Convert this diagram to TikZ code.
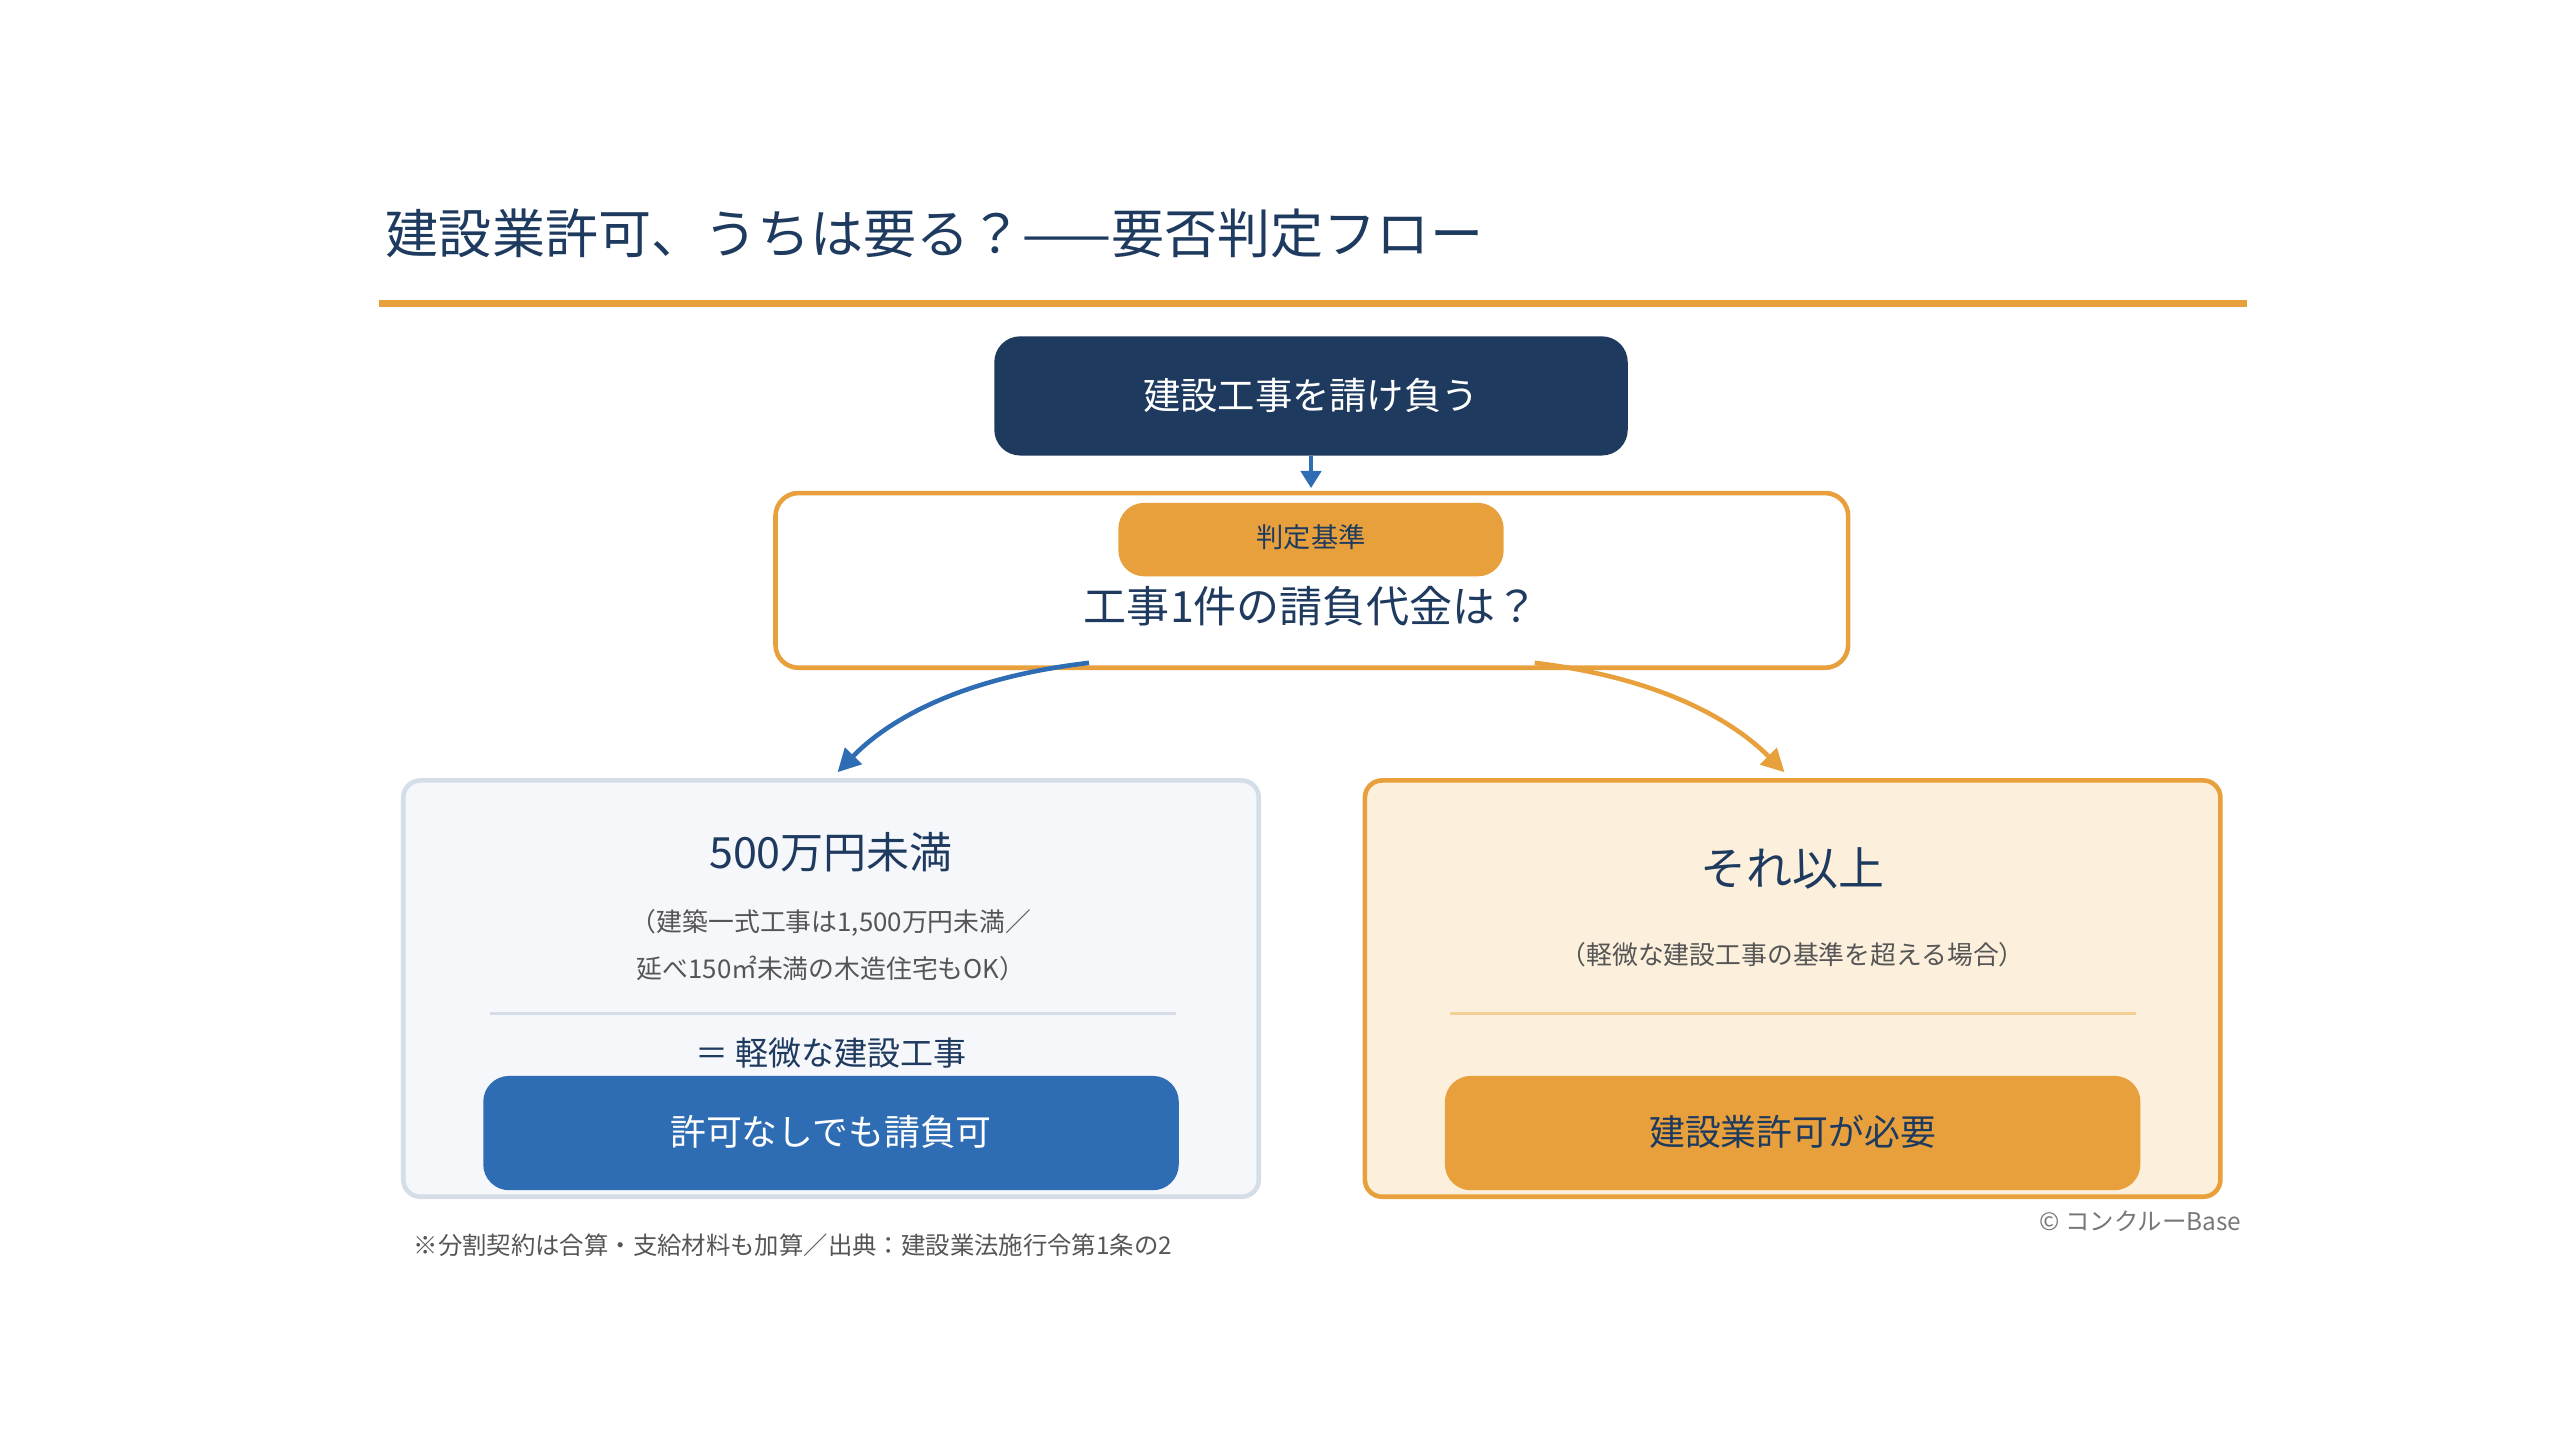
\documentclass[tikz,border=0pt]{standalone}
\usepackage{fontspec}
\setmainfont{Noto Sans CJK JP}
\usetikzlibrary{arrows.meta}
\definecolor{navy}{HTML}{1E3A5F}
\definecolor{org}{HTML}{E8A03C}
\definecolor{blu}{HTML}{2E6DB4}
\definecolor{gry}{HTML}{555555}
\definecolor{lbg}{HTML}{F5F7FB}
\definecolor{lbd}{HTML}{D5DDE8}
\definecolor{rbg}{HTML}{FCF0DC}
\definecolor{rdv}{HTML}{F3CF95}
\newcommand{\fs}[1]{\fontsize{#1}{#1}\selectfont}
\begin{document}
\begin{tikzpicture}[x=0.02cm,y=-0.02cm,
 box/.style={draw,rounded corners=6pt,line width=1.6pt},
 btn/.style={rounded corners=9pt},
 t/.style={inner sep=0pt,text=navy}]
\useasboundingbox (0,0) rectangle (1568,882);
\node[t,anchor=west] (title) at (236,143) {\fs{18.5}建設業許可、うちは要る？——要否判定フロー};
\draw[org,line width=2.3pt] (232,186) coordinate (l1) -- (1376,186) coordinate (l2);
\fill[navy,btn] (609,206) rectangle (997,279);
\node[t,text=white] (top) at (803,242) {\fs{13}建設工事を請け負う};
\draw[box,org,fill=white,rounded corners=8pt] (475,302) rectangle (1132,409);
\fill[org,btn] (685,308) rectangle (921,353);
\node[t] (badge) at (803,329) {\fs{9.5}判定基準};
\node[t] (q) at (803,371) {\fs{15}工事1件の請負代金は？};
\coordinate (a0) at (803,279); \coordinate (a1) at (803,299);
\draw[blu,line width=1.6pt,-{Triangle[length=6pt,width=7pt]}] (a0) -- (a1);
\coordinate (b0) at (667,406); \coordinate (b1) at (513,473);
\coordinate (c0) at (940,406); \coordinate (c1) at (1093,473);
\draw[blu,line width=1.6pt,-{Triangle[length=8pt,width=8pt]}] (b0) .. controls (590,415) and (545,440) .. (b1);
\draw[org,line width=1.6pt,-{Triangle[length=8pt,width=8pt]}] (c0) .. controls (1015,415) and (1060,440) .. (c1);
\draw[box,draw=lbd,fill=lbg] (247,478) rectangle (771,733);
\node[t] (l0) at (509,522) {\fs{15}500万円未満};
\node[t,text=gry] (l1t) at (509,565) {\fs{9}（建築一式工事は1,500万円未満／};
\node[t,text=gry] (l2t) at (509,593) {\fs{9}延べ150㎡未満の木造住宅もOK）};
\draw[lbd,line width=1pt] (300,621) -- (720,621);
\node[t] (l3) at (509,645) {\fs{11.5}＝ 軽微な建設工事};
\fill[blu,btn] (296,659) rectangle (722,729);
\node[t,text=white] (lb) at (509,693) {\fs{12.5}許可なしでも請負可};
\draw[box,draw=org,fill=rbg] (836,478) rectangle (1360,733);
\node[t] (r0) at (1098,532) {\fs{16}それ以上};
\node[t,text=gry] (r1) at (1098,585) {\fs{9}（軽微な建設工事の基準を超える場合）};
\draw[rdv,line width=1pt] (888,621) -- (1308,621);
\fill[org,btn] (885,659) rectangle (1311,729);
\node[t] (rb) at (1098,693) {\fs{12.5}建設業許可が必要};
\node[t,text=gry,anchor=west] (fn) at (253,763) {\fs{8.5}※分割契約は合算・支給材料も加算／出典：建設業法施行令第1条の2};
\node[t,text=gry!80,anchor=east] (cp) at (1373,748) {\fs{8.5}© コンクルーBase};
\end{tikzpicture}
\end{document}
